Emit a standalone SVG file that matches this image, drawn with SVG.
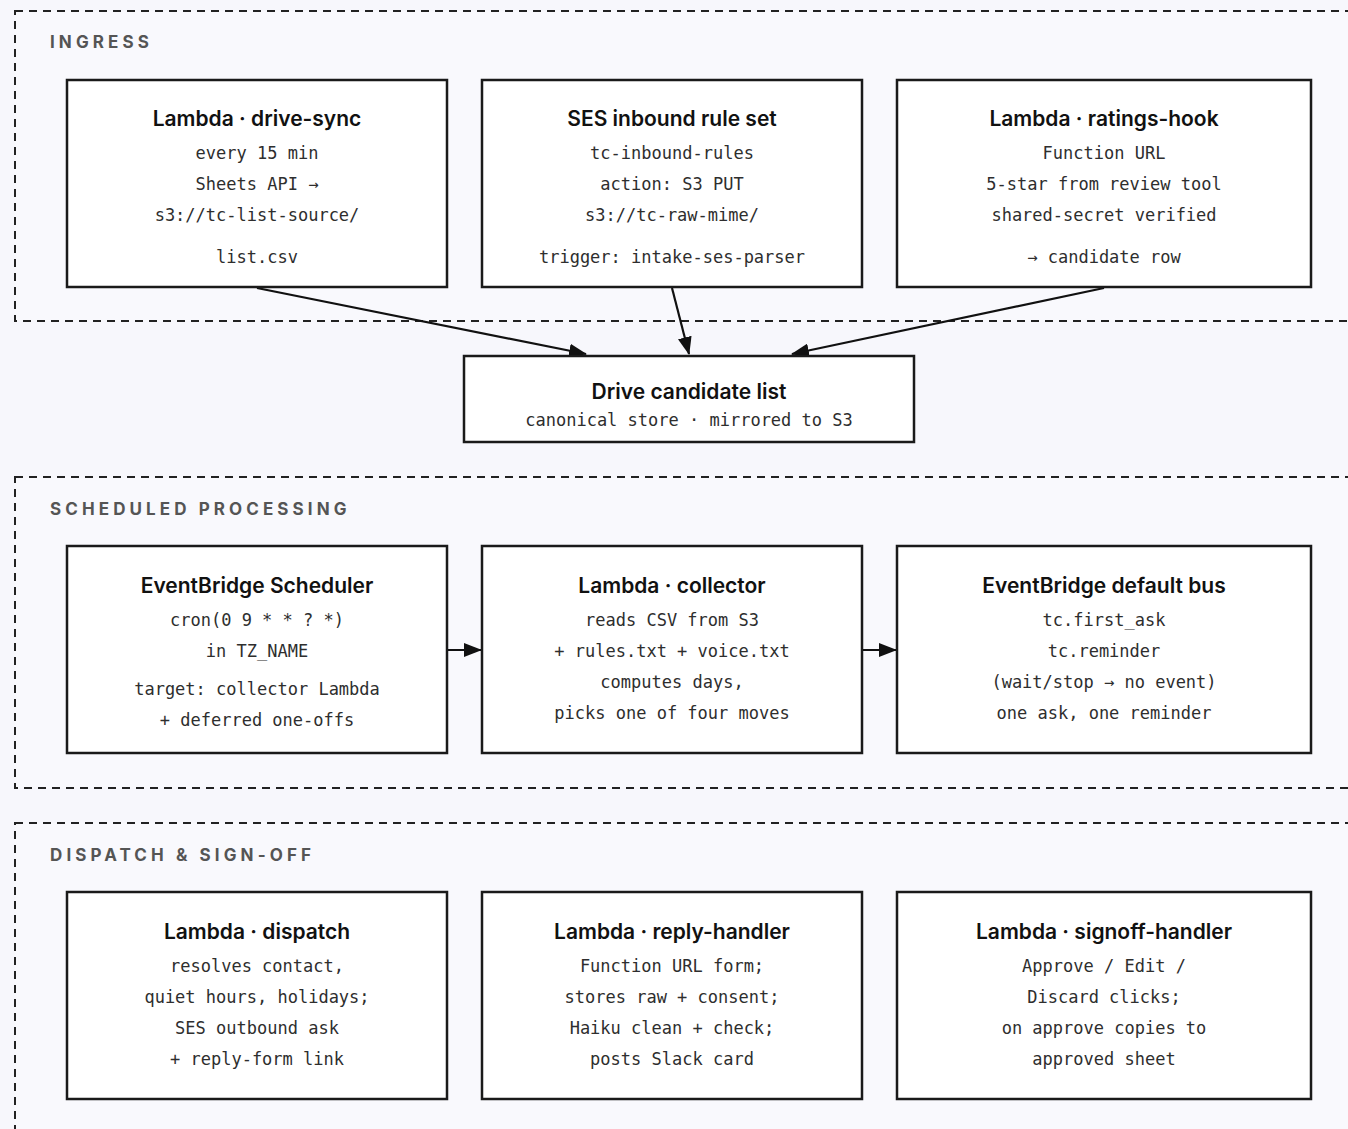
<svg xmlns="http://www.w3.org/2000/svg" width="1348" height="1129" viewBox="0 0 1348 1129">
<defs>
<style>
.bg{fill:#f7f7fc}
.zone{fill:#f9f9fd;stroke:#222;stroke-width:2;stroke-dasharray:8 6}
.zl{font-family:Inter,"Liberation Sans",sans-serif;font-weight:700;font-size:17px;letter-spacing:4.1px;fill:#555;dominant-baseline:central}
.box{fill:#fff;stroke:#1a1a1a;stroke-width:2.5}
.t{font-family:Inter,"Liberation Sans",sans-serif;font-weight:600;font-size:21px;fill:#111;text-anchor:middle;dominant-baseline:central}
.m{font-family:"DejaVu Sans Mono","Liberation Mono",monospace;font-size:17px;fill:#2e2e2e;text-anchor:middle;dominant-baseline:central}
.edge{stroke:#111;stroke-width:2.2;fill:none}
</style>
<marker id="ah" markerUnits="userSpaceOnUse" markerWidth="18" markerHeight="14" refX="17" refY="7" orient="auto">
<path d="M0,0 L18,7 L0,14 z" fill="#111"/>
</marker>
</defs>
<rect class="bg" x="0" y="0" width="1348" height="1129"/>

<g id="zone-ingress">
<rect class="zone" x="15" y="11" width="1400" height="310"/>
<text class="zl" x="50" y="42">INGRESS</text>
</g>
<g id="zone-scheduled">
<rect class="zone" x="15" y="477" width="1400" height="311"/>
<text class="zl" x="50" y="509">SCHEDULED PROCESSING</text>
</g>
<g id="zone-dispatch">
<rect class="zone" x="15" y="823" width="1400" height="330"/>
<text class="zl" x="50" y="855">DISPATCH &amp; SIGN-OFF</text>
</g>

<g id="edges">
<line class="edge" x1="257" y1="288" x2="586" y2="354" marker-end="url(#ah)"/>
<line class="edge" x1="672" y1="288" x2="689" y2="354" marker-end="url(#ah)"/>
<line class="edge" x1="1104" y1="288" x2="792" y2="354" marker-end="url(#ah)"/>
<line class="edge" x1="447" y1="650" x2="481" y2="650" marker-end="url(#ah)"/>
<line class="edge" x1="862" y1="650" x2="896" y2="650" marker-end="url(#ah)"/>
</g>

<g id="drive-sync">
<rect class="box" x="67" y="80" width="380" height="207"/>
<text class="t" x="257" y="118">Lambda · drive-sync</text>
<text class="m" x="257" y="153">every 15 min</text>
<text class="m" x="257" y="184">Sheets API →</text>
<text class="m" x="257" y="215">s3://tc-list-source/</text>
<text class="m" x="257" y="257">list.csv</text>
</g>
<g id="ses-inbound">
<rect class="box" x="482" y="80" width="380" height="207"/>
<text class="t" x="672" y="118">SES inbound rule set</text>
<text class="m" x="672" y="153">tc-inbound-rules</text>
<text class="m" x="672" y="184">action: S3 PUT</text>
<text class="m" x="672" y="215">s3://tc-raw-mime/</text>
<text class="m" x="672" y="257">trigger: intake-ses-parser</text>
</g>
<g id="ratings-hook">
<rect class="box" x="897" y="80" width="414" height="207"/>
<text class="t" x="1104" y="118">Lambda · ratings-hook</text>
<text class="m" x="1104" y="153">Function URL</text>
<text class="m" x="1104" y="184">5-star from review tool</text>
<text class="m" x="1104" y="215">shared-secret verified</text>
<text class="m" x="1104" y="257">→ candidate row</text>
</g>
<g id="drive-list">
<rect class="box" x="464" y="356" width="450" height="86"/>
<text class="t" x="689" y="391">Drive candidate list</text>
<text class="m" x="689" y="420">canonical store · mirrored to S3</text>
</g>

<g id="scheduler">
<rect class="box" x="67" y="546" width="380" height="207"/>
<text class="t" x="257" y="585">EventBridge Scheduler</text>
<text class="m" x="257" y="620">cron(0 9 * * ? *)</text>
<text class="m" x="257" y="651">in TZ_NAME</text>
<text class="m" x="257" y="689">target: collector Lambda</text>
<text class="m" x="257" y="720">+ deferred one-offs</text>
</g>
<g id="collector">
<rect class="box" x="482" y="546" width="380" height="207"/>
<text class="t" x="672" y="585">Lambda · collector</text>
<text class="m" x="672" y="620">reads CSV from S3</text>
<text class="m" x="672" y="651">+ rules.txt + voice.txt</text>
<text class="m" x="672" y="682">computes days,</text>
<text class="m" x="672" y="713">picks one of four moves</text>
</g>
<g id="default-bus">
<rect class="box" x="897" y="546" width="414" height="207"/>
<text class="t" x="1104" y="585">EventBridge default bus</text>
<text class="m" x="1104" y="620">tc.first_ask</text>
<text class="m" x="1104" y="651">tc.reminder</text>
<text class="m" x="1104" y="682">(wait/stop → no event)</text>
<text class="m" x="1104" y="713">one ask, one reminder</text>
</g>

<g id="dispatch">
<rect class="box" x="67" y="892" width="380" height="207"/>
<text class="t" x="257" y="931">Lambda · dispatch</text>
<text class="m" x="257" y="966">resolves contact,</text>
<text class="m" x="257" y="997">quiet hours, holidays;</text>
<text class="m" x="257" y="1028">SES outbound ask</text>
<text class="m" x="257" y="1059">+ reply-form link</text>
</g>
<g id="reply-handler">
<rect class="box" x="482" y="892" width="380" height="207"/>
<text class="t" x="672" y="931">Lambda · reply-handler</text>
<text class="m" x="672" y="966">Function URL form;</text>
<text class="m" x="672" y="997">stores raw + consent;</text>
<text class="m" x="672" y="1028">Haiku clean + check;</text>
<text class="m" x="672" y="1059">posts Slack card</text>
</g>
<g id="signoff-handler">
<rect class="box" x="897" y="892" width="414" height="207"/>
<text class="t" x="1104" y="931">Lambda · signoff-handler</text>
<text class="m" x="1104" y="966">Approve / Edit /</text>
<text class="m" x="1104" y="997">Discard clicks;</text>
<text class="m" x="1104" y="1028">on approve copies to</text>
<text class="m" x="1104" y="1059">approved sheet</text>
</g>
</svg>
